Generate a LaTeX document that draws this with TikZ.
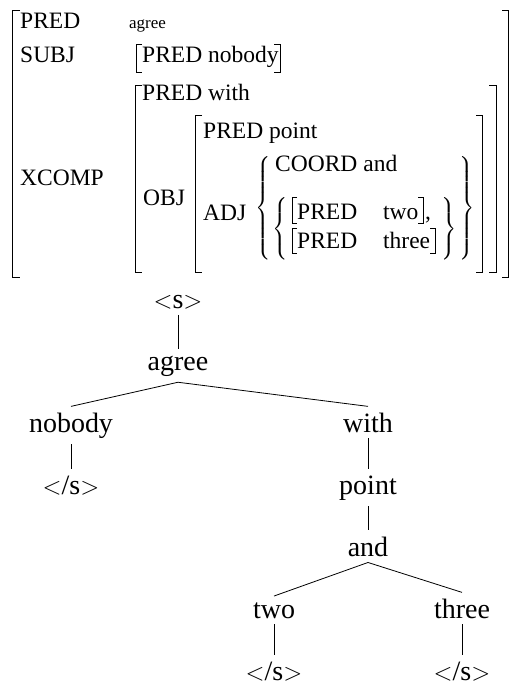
\documentclass[tikz,border=0pt]{standalone}
\usepackage{fontspec}
\setmainfont{Liberation Serif}
\usepackage{exscale}
\newcommand{\mybrL}[1]{$\nulldelimiterspace=0pt\delimiterfactor=1000\delimitershortfall=0pt\left\{\vcenter{\hrule height #1 width 0pt}\right.$}
\newcommand{\mybrR}[1]{$\nulldelimiterspace=0pt\delimiterfactor=1000\delimitershortfall=0pt\left.\vcenter{\hrule height #1 width 0pt}\right\}$}
\newcommand{\sopen}{{$<$}s{$>$}}
\newcommand{\sclose}{{$<$}/s{$>$}}
\begin{document}
\begin{tikzpicture}[x=1pt,y=-1pt,
  fs/.style={inner sep=0pt, anchor=base west, font=\fontsize{23.5}{28}\selectfont},
  fsm/.style={inner sep=0pt, anchor=base west, font=\fontsize{17}{20}\selectfont},
  brk/.style={line width=1pt},
  tr/.style={inner sep=6pt, anchor=base, font=\fontsize{28}{34}\selectfont},
  edge/.style={line width=0.8pt},
  brc/.style={inner sep=0pt, font=\fontsize{16}{16}\selectfont}]
\useasboundingbox (0,0) rectangle (509,686);

% ---------- f-structure ----------
% outer brackets
\draw[brk] (20,10) -- (12,10) -- (12,277) -- (20,277);
\draw[brk] (502,10) -- (508,10) -- (508,277) -- (502,277);
\node[fs] (pred1) at (20,28) {PRED};
\node[fsm] (agreev) at (129,28) {agree};
\node[fs] (subj) at (20,62) {SUBJ};
\draw[brk] (142,44) -- (136,44) -- (136,72) -- (142,72);
\node[fs] (pred2) at (142,62) {PRED nobody};
\draw[brk] (274,44) -- (280,44) -- (280,72) -- (274,72);

% XCOMP value
\node[fs] (xcomp) at (20,185) {XCOMP};
\draw[brk] (142,85) -- (135,85) -- (135,272) -- (142,272);
\draw[brk] (489,85) -- (496,85) -- (496,272) -- (489,272);
\node[fs] (pred3) at (142,100) {PRED with};
\node[fs] (obj) at (143,205) {OBJ};

% OBJ value
\draw[brk] (202,115) -- (195,115) -- (195,272) -- (202,272);
\draw[brk] (476,115) -- (482,115) -- (482,272) -- (476,272);
\node[fs] (pred4) at (203,138) {PRED point};
\node[fs] (adj) at (203,220) {ADJ};

% ADJ set
\node[brc] (bo1) at (263,208) {\mybrL{100pt}};
\node[brc] (bo2) at (467,208) {\mybrR{100pt}};
\node[fs] (coord) at (275,171) {COORD and};
\node[brc] (bi1) at (280,229) {\mybrL{60pt}};
\node[brc] (bi2) at (449,229) {\mybrR{60pt}};

\draw[brk] (297,197) -- (292,197) -- (292,223) -- (297,223);
\node[fs] (pred5) at (297,219) {PRED};
\node[fs] (two5) at (383,219) {two};
\draw[brk] (418,197) -- (423,197) -- (423,223) -- (418,223);
\node[fs] (comma) at (425,219) {,};
\draw[brk] (297,228) -- (292,228) -- (292,253) -- (297,253);
\node[fs] (pred6) at (297,248) {PRED};
\node[fs] (three6) at (383,248) {three};
\draw[brk] (430,228) -- (435,228) -- (435,253) -- (430,253);

% ---------- tree ----------
\node[tr] (s0) at (178,308) {\sopen};
\node[tr] (agree) at (178,370) {agree};
\node[tr] (nobody) at (71,432) {nobody};
\node[tr] (with) at (368,432) {with};
\node[tr] (e1) at (71,494) {\sclose};
\node[tr] (point) at (368,494) {point};
\node[tr] (and) at (368,556) {and};
\node[tr] (two) at (274,618) {two};
\node[tr] (three) at (462,618) {three};
\node[tr] (e2) at (274,680) {\sclose};
\node[tr] (e3) at (462,680) {\sclose};

\draw[edge] (s0.south) -- (agree.north);
\draw[edge] (agree.south) -- (nobody.north);
\draw[edge] (agree.south) -- (with.north);
\draw[edge] (nobody.south) -- (e1.north);
\draw[edge] (with.south) -- (point.north);
\draw[edge] (point.south) -- (and.north);
\draw[edge] (and.south) -- (two.north);
\draw[edge] (and.south) -- (three.north);
\draw[edge] (two.south) -- (e2.north);
\draw[edge] (three.south) -- (e3.north);
\end{tikzpicture}
\end{document}
